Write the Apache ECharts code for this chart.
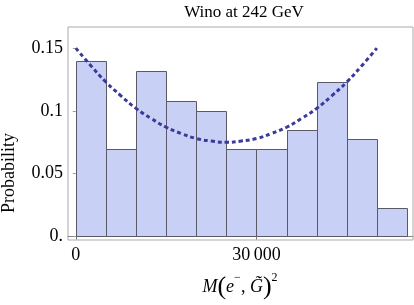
<!DOCTYPE html>
<html>
<head>
<meta charset="utf-8">
<script src="https://cdn.jsdelivr.net/npm/echarts@6/dist/echarts.min.js"></script>
<style>html,body{margin:0;padding:0;background:#fff}#c{width:414px;height:305px}</style>
</head>
<body>
<div id="c"></div>
<script>
// Histogram bins (M^2), probabilities
const binStarts = [0, 5000, 10000, 15000, 20000, 25000, 30000, 35000, 40000, 45000, 50000];
const binEnds   = [5000, 10000, 15000, 20000, 25000, 30000, 35000, 40000, 45000, 50000, 55000];
const probabilities = [0.14, 0.07, 0.132, 0.108, 0.1, 0.07, 0.07, 0.085, 0.123, 0.0775, 0.023];
// Dotted curve
const curveX = [0, 2500, 5000, 7500, 10000, 12500, 15000, 17500, 20000, 22500, 25000,
                27500, 30000, 32500, 35000, 37500, 40000, 42500, 45000, 47500, 50000];
const curveY = [0.150, 0.136, 0.123, 0.112, 0.102, 0.094, 0.087, 0.082, 0.078, 0.076, 0.075,
                0.076, 0.078, 0.082, 0.087, 0.094, 0.102, 0.112, 0.123, 0.136, 0.150];
const xTicks = [0, 30000];
const yTicks = [0, 0.05, 0.1, 0.15];

const FONT = 'Liberation Serif';
const chart = echarts.init(document.getElementById('c'), null, {renderer: 'canvas'});

const barData = binStarts.map((s, i) => [s, binEnds[i], probabilities[i]]);
const lineData = curveX.map((x, i) => [x, curveY[i]]);

chart.setOption({
  animation: false,
  title: {
    text: 'Wino at 242 GeV',
    left: 239, top: -1, textAlign: 'center',
    textStyle: {fontFamily: FONT, fontSize: 17, fontWeight: 'normal', color: '#000'}
  },
  grid: {left: 68, top: 27, width: 345, height: 213, show: true, borderColor: '#aaa', borderWidth: 1, containLabel: false},
  xAxis: {
    type: 'value', min: -1300, max: 56000,
    splitLine: {show: false},
    axisLine: {show: true, onZero: true, lineStyle: {color: '#888', width: 1}},
    axisTick: {show: true, customValues: xTicks, length: 3, inside: false, lineStyle: {color: '#777'}},
    axisLabel: {
      customValues: xTicks, margin: 6,
      fontFamily: FONT, fontSize: 18, color: '#000',
      formatter: v => v === 0 ? '0' : String(v).replace(/(\d+)(\d{3})$/, '$1\u2009$2')
    }
  },
  yAxis: {
    type: 'value', min: -0.0028, max: 0.1668,
    splitLine: {show: false},
    axisLine: {show: false},
    axisTick: {show: true, customValues: yTicks, length: 3, inside: false, lineStyle: {color: '#999'}},
    axisLabel: {
      customValues: yTicks, margin: 5,
      fontFamily: FONT, fontSize: 18, color: '#000',
      formatter: v => v === 0 ? '0.' : String(v)
    }
  },
  graphic: [
    {
      type: 'text', left: 0, top: 133, rotation: Math.PI / 2,
      x: 0, y: 0,
      style: {text: 'Probability', fontFamily: FONT, fontSize: 18, fill: '#000', align: 'center', verticalAlign: 'middle'},
      position: [10, 134]
    },
    {
      type: 'text', position: [240, 287],
      style: {
        text: '{i|M}{p|(}{i|e}{s|\u2212}{n|, }{i|G\u0303}{p|)}{s|2}',
        align: 'center', verticalAlign: 'middle',
        rich: {
          i: {fontFamily: FONT, fontStyle: 'italic', fontSize: 18, fill: '#000', verticalAlign: 'middle', lineHeight: 30},
          n: {fontFamily: FONT, fontSize: 18, fill: '#000', verticalAlign: 'middle', lineHeight: 30},
          p: {fontFamily: FONT, fontSize: 26, fill: '#000', verticalAlign: 'middle', lineHeight: 30},
          s: {fontFamily: FONT, fontSize: 12, fill: '#000', verticalAlign: 'top', lineHeight: 30}
        }
      }
    }
  ],
  series: [
    {
      type: 'custom',
      data: barData,
      encode: {x: [0, 1], y: 2},
      renderItem: function (params, api) {
        const p0 = api.coord([api.value(0), api.value(2)]);
        const p1 = api.coord([api.value(1), 0]);
        return {
          type: 'rect',
          shape: {x: Math.round(p0[0]) + 0.5, y: Math.round(p0[1]) + 0.5, width: Math.round(p1[0]) - Math.round(p0[0]), height: Math.round(p1[1]) - Math.round(p0[1])},
          style: {fill: '#c9d0f5', stroke: '#5a5a66', lineWidth: 1}
        };
      },
      z: 2
    },
    {
      type: 'line',
      data: lineData,
      smooth: true,
      showSymbol: false,
      lineStyle: {color: '#3a3a9a', width: 3, type: [4, 3], cap: 'butt'},
      z: 3
    }
  ]
});
</script>
</body>
</html>
